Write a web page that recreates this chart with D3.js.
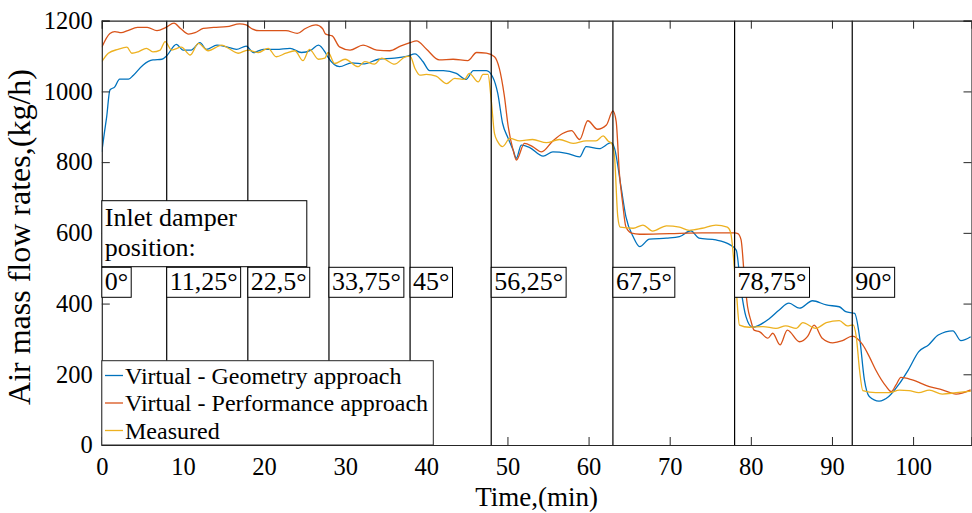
<!DOCTYPE html>
<html>
<head>
<meta charset="utf-8">
<script src="https://cdn.jsdelivr.net/npm/d3@7"></script>
<style>
  body { margin: 0; background: #fff; }
  text { font-family: "Liberation Serif", "Times New Roman", serif; fill: #000; }
</style>
</head>
<body>
<div id="chart"></div>
<script>
// [time (min), air mass flow (kg/h)]
const geometryData = [
  [0, 829], [0.3, 880], [0.6, 928], [1.0, 1004], [1.6, 1013], [2.2, 1035], [3.3, 1035], [3.9, 1046],
  [5.1, 1075], [6.3, 1089], [7.4, 1091], [8.0, 1101], [9.2, 1133], [10.0, 1117], [11.0, 1117],
  [12.1, 1138], [12.9, 1119], [14.2, 1131], [15.4, 1126], [16.6, 1119], [17.8, 1128], [18.7, 1110],
  [19.9, 1119], [21.5, 1119], [23.2, 1122], [24.6, 1110], [25.8, 1117], [26.7, 1131], [27.5, 1112],
  [27.9, 1096], [29.3, 1070], [30.8, 1081], [32.4, 1078], [34.1, 1091], [36.1, 1094], [37.7, 1100],
  [38.6, 1106], [39.6, 1084], [40.4, 1059], [42.1, 1059], [43.7, 1051], [44.9, 1034], [45.8, 1059],
  [47.4, 1059], [48.2, 1040], [48.8, 995], [49.4, 910], [50.1, 867], [50.7, 834], [51.1, 811],
  [51.7, 848], [52.7, 842], [54.4, 817], [55.6, 829], [57.3, 825], [58.9, 815], [59.7, 844],
  [61.3, 838], [62.8, 855], [63.2, 839], [64.0, 730], [64.6, 646], [65.5, 589], [66.3, 561],
  [67.5, 582], [69.6, 585], [71.2, 589], [72.6, 606], [73.6, 585], [75.7, 580], [77.3, 568],
  [78.2, 551], [78.8, 438], [79.4, 363], [80.2, 333], [82.3, 358], [83.5, 382], [84.7, 401],
  [86.0, 387], [87.6, 408], [89.3, 396], [90.9, 391], [91.7, 377], [92.8, 372], [93.4, 306],
  [94.0, 184], [94.6, 137], [95.8, 124], [97.0, 137], [98.2, 170], [99.4, 212], [100.7, 264],
  [101.9, 283], [103.1, 311], [104.9, 323], [105.9, 295], [107.1, 306]
];
const performanceData = [
  [0, 1125], [1.0, 1164], [1.6, 1169], [2.4, 1166], [3.2, 1172], [4.4, 1181], [5.6, 1181], [6.8, 1172],
  [7.9, 1181], [8.9, 1193], [9.7, 1178], [10.7, 1162], [11.5, 1166], [12.5, 1178], [13.8, 1181],
  [15.4, 1183], [17.0, 1191], [17.8, 1188], [18.6, 1176], [19.4, 1172], [21.1, 1172], [22.7, 1172],
  [24.1, 1164], [25.1, 1178], [26.4, 1188], [27.2, 1178], [27.6, 1162], [28.4, 1157], [29.3, 1126],
  [30.6, 1117], [32.2, 1131], [33.9, 1117], [35.5, 1115], [36.8, 1128], [38.0, 1138], [38.8, 1143],
  [40.0, 1120], [41.6, 1089], [43.3, 1091], [45.1, 1087], [46.2, 1110], [47.4, 1108], [48.4, 1098],
  [49.0, 1065], [49.6, 990], [50.1, 900], [50.7, 834], [51.1, 806], [52.1, 853], [53.1, 844],
  [54.2, 829], [55.6, 860], [56.8, 881], [57.9, 889], [58.9, 864], [59.9, 917], [61.1, 893],
  [62.2, 905], [63.0, 945], [63.4, 915], [63.8, 768], [64.2, 684], [64.6, 617], [65.3, 599],
  [66.3, 596], [70.0, 598], [74.0, 600], [78.0, 600], [78.4, 598], [78.8, 580], [79.2, 476],
  [79.6, 391], [80.0, 352], [80.4, 325], [81.1, 320], [82.1, 302], [82.7, 316], [83.6, 283],
  [84.5, 325], [86.0, 292], [87.0, 307], [87.8, 339], [88.8, 302], [90.1, 289], [91.3, 295],
  [92.5, 308], [93.8, 283], [94.6, 250], [95.4, 212], [96.7, 165], [97.3, 151], [97.9, 170],
  [98.5, 191], [99.9, 184], [102.0, 165], [103.6, 156], [105.3, 144], [107.1, 156]
];
const measuredData = [
  [0, 1084], [0.8, 1108], [2.0, 1119], [3.1, 1125], [3.7, 1108], [4.5, 1112], [5.5, 1122], [6.3, 1112],
  [7.2, 1117], [7.8, 1141], [8.6, 1117], [9.8, 1125], [10.9, 1103], [11.9, 1136], [13.1, 1115],
  [14.8, 1131], [15.6, 1122], [16.8, 1108], [18.0, 1117], [19.3, 1110], [20.5, 1122], [21.5, 1098],
  [22.7, 1108], [23.8, 1115], [24.8, 1087], [25.6, 1119], [26.7, 1091], [27.5, 1094], [27.9, 1110],
  [28.7, 1079], [30.0, 1091], [31.6, 1070], [32.4, 1084], [33.6, 1077], [34.5, 1094], [36.1, 1077],
  [37.4, 1098], [38.0, 1100], [38.6, 1065], [39.2, 1046], [40.0, 1048], [41.2, 1043], [42.5, 1022],
  [43.5, 1037], [44.7, 1034], [45.3, 1051], [46.4, 1027], [47.0, 1048], [47.6, 1048], [48.0, 976],
  [48.4, 881], [48.8, 858], [49.4, 844], [50.3, 867], [51.5, 860], [53.1, 864], [54.8, 855],
  [56.4, 864], [58.1, 853], [59.7, 860], [60.9, 860], [61.8, 874], [62.4, 860], [62.9, 851],
  [63.2, 815], [63.6, 646], [63.9, 616], [65.5, 613], [66.7, 622], [67.9, 605], [69.6, 620],
  [71.2, 616], [72.4, 607], [74.0, 613], [75.7, 622], [77.1, 616], [77.5, 602], [78.2, 438],
  [78.6, 339], [79.8, 333], [81.5, 335], [83.1, 330], [84.3, 337], [85.6, 330], [86.4, 346],
  [88.0, 330], [89.3, 346], [90.9, 352], [91.9, 337], [92.6, 340], [93.0, 306], [93.4, 212],
  [93.8, 154], [95.4, 148], [97.1, 148], [98.3, 155], [99.5, 154], [100.7, 148], [102.0, 155],
  [103.6, 144], [105.3, 148], [107.1, 152]
];

const seriesNames = ['Virtual - Geometry approach', 'Virtual - Performance approach', 'Measured'];
const seriesColors = ['#0072BD', '#D95319', '#EDB120'];

const damperTimes = [0, 8, 18, 28, 38, 48, 63, 78, 92.5];
const damperLabels = ['0°', '11,25°', '22,5°', '33,75°', '45°', '56,25°', '67,5°', '78,75°', '90°'];

const xTicks = [0, 10, 20, 30, 40, 50, 60, 70, 80, 90, 100];
const yTicks = [0, 200, 400, 600, 800, 1000, 1200];

const W = 972, H = 513;
const plotLeft = 101.8, plotRight = 971.5, plotTop = 20.7, plotBottom = 445;
const axisColor = '#262626';

const x = d3.scaleLinear().domain([0, 107.2]).range([plotLeft, plotRight]);
const y = d3.scaleLinear().domain([0, 1200]).range([plotBottom, plotTop]);

const svg = d3.select('#chart').append('svg')
  .attr('width', W)
  .attr('height', H);

svg.append('defs').append('clipPath')
  .attr('id', 'plot-clip')
  .append('rect')
  .attr('x', plotLeft).attr('y', plotTop)
  .attr('width', plotRight - plotLeft).attr('height', plotBottom - plotTop);

// data lines
const line = d3.line()
  .x(d => x(d[0]))
  .y(d => y(d[1]))
  .curve(d3.curveMonotoneX);

const allSeries = [geometryData, performanceData, measuredData];
const gLines = svg.append('g').attr('clip-path', 'url(#plot-clip)');
allSeries.forEach((s, i) => {
  gLines.append('path')
    .datum(s)
    .attr('fill', 'none')
    .attr('stroke', seriesColors[i])
    .attr('stroke-width', 1.3)
    .attr('stroke-linejoin', 'round')
    .attr('d', line);
});

// damper change markers
svg.append('g').selectAll('line')
  .data(damperTimes.slice(1))
  .join('line')
  .attr('x1', d => x(d)).attr('x2', d => x(d))
  .attr('y1', plotTop).attr('y2', plotBottom)
  .attr('stroke', '#000')
  .attr('stroke-width', 1.2);

// axes (MATLAB style box, ticks inside)
const fontSize = 24.5;
const fmt = d3.format('d');
const xAxis = svg.append('g')
  .attr('transform', `translate(0,${plotBottom})`)
  .call(d3.axisBottom(x).tickValues(xTicks).tickFormat(fmt).tickSize(-8).tickPadding(13));
const yAxis = svg.append('g')
  .attr('transform', `translate(${plotLeft},0)`)
  .call(d3.axisLeft(y).tickValues(yTicks).tickFormat(fmt).tickSize(-8).tickPadding(9));
const xTop = svg.append('g')
  .attr('transform', `translate(0,${plotTop})`)
  .call(d3.axisTop(x).tickValues(xTicks).tickSize(-8).tickFormat(''));
const yRight = svg.append('g')
  .attr('transform', `translate(${plotRight},0)`)
  .call(d3.axisRight(y).tickValues(yTicks).tickSize(-8).tickFormat(''));

[xAxis, yAxis, xTop, yRight].forEach(a => {
  a.attr('font-family', '"Liberation Serif", serif').attr('font-size', fontSize);
  a.select('.domain').attr('stroke', axisColor).attr('stroke-width', 1.2);
  a.selectAll('.tick line').attr('stroke', axisColor).attr('stroke-width', 1);
  a.selectAll('.tick text').attr('fill', axisColor);
});

// axis titles
svg.append('text')
  .attr('x', (plotLeft + plotRight) / 2)
  .attr('y', 506)
  .attr('text-anchor', 'middle')
  .attr('font-size', 27)
  .attr('fill', axisColor)
  .text('Time,(min)');

svg.append('text')
  .attr('transform', 'translate(30,237) rotate(-90)')
  .attr('text-anchor', 'middle')
  .attr('font-size', 32)
  .attr('fill', axisColor)
  .text('Air mass flow rates,(kg/h)');

// "Inlet damper position:" box
const gTitle = svg.append('g');
gTitle.append('rect')
  .attr('x', x(0)).attr('y', 200.7)
  .attr('width', 205).attr('height', 66)
  .attr('fill', '#fff').attr('stroke', '#000').attr('stroke-width', 1);
gTitle.append('text')
  .attr('x', x(0) + 3).attr('y', 226)
  .attr('font-size', 26)
  .text('Inlet damper');
gTitle.append('text')
  .attr('x', x(0) + 3).attr('y', 256)
  .attr('font-size', 26)
  .text('position:');

// damper angle labels
const gLabels = svg.append('g');
damperTimes.forEach((t, i) => {
  const g = gLabels.append('g').attr('transform', `translate(${x(t)},267.3)`);
  const txt = g.append('text')
    .attr('x', 3).attr('y', 23)
    .attr('font-size', 26)
    .text(damperLabels[i]);
  const w = txt.node().getComputedTextLength();
  g.insert('rect', 'text')
    .attr('x', 0).attr('y', 0)
    .attr('width', w + 6).attr('height', 30)
    .attr('fill', '#fff').attr('stroke', '#000').attr('stroke-width', 1);
});

// legend
const legend = svg.append('g');
legend.append('rect')
  .attr('x', x(0)).attr('y', 360.7)
  .attr('width', 331.5).attr('height', plotBottom - 360.7)
  .attr('fill', '#fff').attr('stroke', axisColor).attr('stroke-width', 1);
seriesNames.forEach((name, i) => {
  const cy = 375.5 + i * 27.5;
  legend.append('line')
    .attr('x1', 105).attr('x2', 123)
    .attr('y1', cy).attr('y2', cy)
    .attr('stroke', seriesColors[i]).attr('stroke-width', 1.3);
  legend.append('text')
    .attr('x', 125).attr('y', cy + 8)
    .attr('font-size', 24)
    .text(name);
});
</script>
</body>
</html>
